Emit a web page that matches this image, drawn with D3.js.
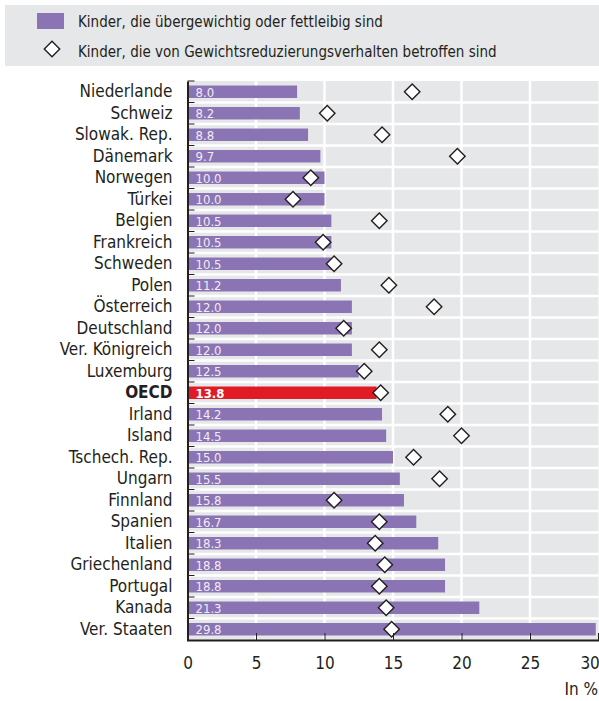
<!DOCTYPE html>
<html>
<head>
<meta charset="utf-8">
<script src="https://cdn.jsdelivr.net/npm/d3@7"></script>
<style>
  body { margin: 0; background: #fff; }
  svg { display: block; font-family: "Liberation Sans Narrow", "Arial Narrow", "DejaVu Sans Condensed", sans-serif; }
</style>
</head>
<body>
<div id="chart"></div>
<script>
// data
const countries = ['Niederlande', 'Schweiz', 'Slowak. Rep.', 'Dänemark', 'Norwegen', 'Türkei',
  'Belgien', 'Frankreich', 'Schweden', 'Polen', 'Österreich', 'Deutschland', 'Ver. Königreich',
  'Luxemburg', 'OECD', 'Irland', 'Island', 'Tschech. Rep.', 'Ungarn', 'Finnland', 'Spanien',
  'Italien', 'Griechenland', 'Portugal', 'Kanada', 'Ver. Staaten'];
const overweight = [8.0, 8.2, 8.8, 9.7, 10.0, 10.0, 10.5, 10.5, 10.5, 11.2, 12.0, 12.0, 12.0,
  12.5, 13.8, 14.2, 14.5, 15.0, 15.5, 15.8, 16.7, 18.3, 18.8, 18.8, 21.3, 29.8];
const weightLoss = [16.4, 10.2, 14.2, 19.7, 9.0, 7.7, 14.0, 9.9, 10.7, 14.7, 18.0, 11.4, 14.0,
  12.9, 14.1, 19.0, 20.0, 16.5, 18.4, 10.7, 14.0, 13.7, 14.4, 14.0, 14.5, 14.9];
const xTicks = [0, 5, 10, 15, 20, 25, 30];
const legendLabels = ['Kinder, die übergewichtig oder fettleibig sind',
  'Kinder, die von Gewichtsreduzierungsverhalten betroffen sind'];
const highlight = 'OECD';

const rows = countries.map((c, i) => ({ name: c, bar: overweight[i], dot: weightLoss[i] }));

// colours
const purple = '#8a74b4';
const red = '#e01b24';
const grey = '#e6e7e8';
const ink = '#231f20';

const W = 599;
const H = 701;
const plot = { left: 187.5, right: 598.5, top: 81, bottom: 640 };

const svg = d3.select('#chart')
  .append('svg')
  .attr('width', W)
  .attr('height', H);

// legend
const legend = svg.append('g');
legend.append('rect')
  .attr('x', 5).attr('y', 5)
  .attr('width', W - 5).attr('height', 61)
  .attr('fill', grey);
legend.append('rect')
  .attr('x', 37).attr('y', 13)
  .attr('width', 27).attr('height', 16)
  .attr('fill', purple);
legend.append('path')
  .attr('d', d3.symbol(d3.symbolSquare, 120)())
  .attr('transform', 'translate(52,49) rotate(45)')
  .attr('fill', 'white')
  .attr('stroke', ink)
  .attr('stroke-width', 1.4);
legendLabels.forEach((t, i) => {
  legend.append('text')
    .attr('x', 78)
    .attr('y', 27 + i * 30)
    .attr('fill', ink)
    .style('font-size', '15px')
    .text(t);
});

// scales
const x = d3.scaleLinear()
  .domain([0, 30])
  .range([plot.left, plot.right]);

const y = d3.scaleBand()
  .domain(countries)
  .range([plot.top, plot.bottom]);

const barH = y.bandwidth() * 0.58;

// background
svg.append('rect')
  .attr('x', plot.left)
  .attr('y', plot.top)
  .attr('width', plot.right - plot.left)
  .attr('height', plot.bottom - plot.top)
  .attr('fill', grey);

// white grid
const grid = svg.append('g');
grid.selectAll('.vgrid')
  .data(xTicks.filter((d) => d > 0 && d < 30))
  .enter()
  .append('line')
  .attr('x1', (d) => x(d)).attr('x2', (d) => x(d))
  .attr('y1', plot.top).attr('y2', plot.bottom)
  .attr('stroke', 'white')
  .attr('stroke-width', 2.5);
grid.selectAll('.hgrid')
  .data(countries.slice(1))
  .enter()
  .append('line')
  .attr('x1', plot.left).attr('x2', plot.right)
  .attr('y1', (d) => y(d)).attr('y2', (d) => y(d))
  .attr('stroke', 'white')
  .attr('stroke-width', 2.5);

// bars
svg.append('g')
  .selectAll('rect')
  .data(rows)
  .enter()
  .append('rect')
  .attr('x', x(0))
  .attr('y', (d) => y(d.name) + (y.bandwidth() - barH) / 2)
  .attr('width', (d) => x(d.bar) - x(0))
  .attr('height', barH)
  .attr('fill', (d) => (d.name === highlight ? red : purple));

// values inside bars
svg.append('g')
  .selectAll('text')
  .data(rows)
  .enter()
  .append('text')
  .attr('x', x(0) + 8)
  .attr('y', (d) => y(d.name) + y.bandwidth() / 2 + 5)
  .attr('fill', (d) => (d.name === highlight ? 'white' : '#f1ecf7'))
  .style('font-size', '13px')
  .style('font-weight', (d) => (d.name === highlight ? 'bold' : 'normal'))
  .text((d) => d.bar.toFixed(1));

// diamonds
svg.append('g')
  .selectAll('path')
  .data(rows)
  .enter()
  .append('path')
  .attr('d', d3.symbol(d3.symbolSquare, 120)())
  .attr('transform', (d) => `translate(${x(d.dot)},${y(d.name) + y.bandwidth() / 2}) rotate(45)`)
  .attr('fill', 'white')
  .attr('stroke', ink)
  .attr('stroke-width', 1.4);

// y axis with labels
const yAxis = svg.append('g')
  .attr('transform', `translate(${plot.left},0)`)
  .call(d3.axisLeft(y).tickSize(0).tickPadding(15));
yAxis.attr('font-family', null);
yAxis.select('.domain')
  .attr('stroke', ink)
  .attr('stroke-width', 2);
yAxis.selectAll('text')
  .attr('fill', ink)
  .style('font-size', '17px')
  .style('font-weight', (d) => (d === highlight ? 'bold' : 'normal'));

// y ticks on row boundaries
svg.append('g')
  .selectAll('line')
  .data(countries)
  .enter()
  .append('line')
  .attr('x1', plot.left).attr('x2', plot.left + 7)
  .attr('y1', (d) => y(d)).attr('y2', (d) => y(d))
  .attr('stroke', ink)
  .attr('stroke-width', 1);

// x axis
const xAxis = svg.append('g')
  .attr('transform', `translate(0,${plot.bottom})`)
  .call(d3.axisBottom(x).tickValues(xTicks).tickSize(-7).tickPadding(17));
xAxis.attr('font-family', null);
xAxis.select('.domain')
  .attr('stroke', ink)
  .attr('stroke-width', 2);
xAxis.selectAll('.tick line')
  .attr('stroke', ink)
  .attr('opacity', (d) => (d === 0 || d === 30 ? 0 : 1));
xAxis.selectAll('.tick text')
  .attr('fill', ink)
  .style('font-size', '17px')
  .attr('text-anchor', (d) => (d === 30 ? 'end' : 'middle'))
  .attr('dx', (d) => (d === 30 ? '0.05em' : 0));

svg.append('text')
  .attr('x', W - 1)
  .attr('y', 695)
  .attr('text-anchor', 'end')
  .attr('fill', ink)
  .style('font-size', '17px')
  .text('In %');
</script>
</body>
</html>
